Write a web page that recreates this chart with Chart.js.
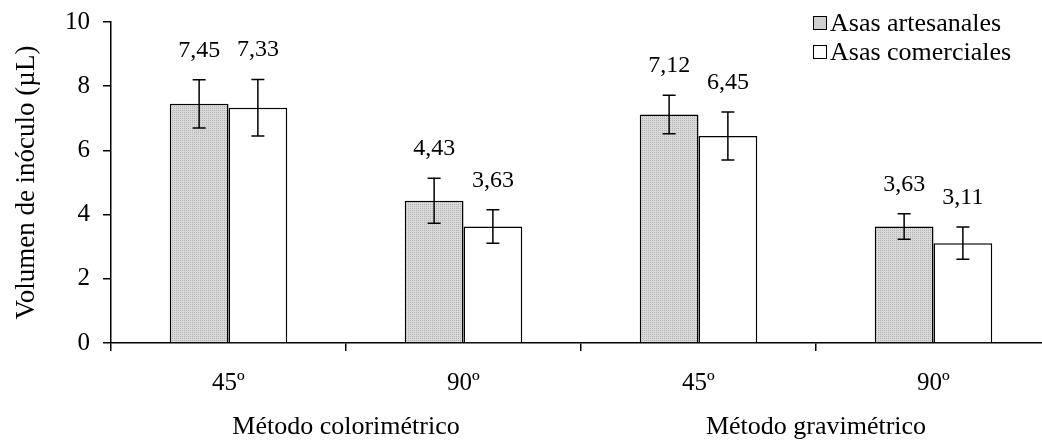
<!DOCTYPE html>
<html>
<head>
<meta charset="utf-8">
<script src="https://cdn.jsdelivr.net/npm/chart.js@4"></script>
<style>
  html, body { margin: 0; padding: 0; background: #fff; overflow: hidden; }
  #wrap { position: relative; width: 1053px; height: 443px; }
  #legend { position: absolute; left: 813px; top: 8px; font-family: 'Liberation Serif', serif; font-size: 26px; color: #000; }
  #legend .row { display: flex; align-items: center; height: 29px; }
  #legend .box { width: 12px; height: 12px; border: 1px solid #000; margin-right: 3px; }
</style>
</head>
<body>
<div id="wrap">
  <canvas id="c"></canvas>
  <div id="legend"></div>
</div>
<script>
const angleLabels = ['45º', '90º', '45º', '90º'];
const methodLabels = ['Método colorimétrico', 'Método gravimétrico'];
const seriesNames = ['Asas artesanales', 'Asas comerciales'];
const artesanales = [7.45, 4.43, 7.12, 3.63];
const comerciales = [7.33, 3.63, 6.45, 3.11];
const errArtesanales = [0.75, 0.70, 0.60, 0.40];
const errComerciales = [0.88, 0.52, 0.75, 0.50];
const yTicks = [0, 2, 4, 6, 8, 10];

// stippled grey fill
function makePattern() {
  const p = document.createElement('canvas');
  p.width = 2; p.height = 2;
  const g = p.getContext('2d');
  g.fillStyle = '#d9d9d9'; g.fillRect(0, 0, 2, 2);
  g.fillStyle = '#b2b2b2'; g.fillRect(0, 0, 1, 1);
  return g.createPattern(p, 'repeat');
}
const greyFill = makePattern();

const errors = [errArtesanales, errComerciales];
const serif = 'Liberation Serif';

const errorBarPlugin = {
  id: 'errorBars',
  afterDatasetsDraw(chart) {
    const ctx = chart.ctx;
    const y = chart.scales.y;
    ctx.save();
    ctx.strokeStyle = '#000';
    ctx.lineWidth = 1.5;
    ctx.fillStyle = '#000';
    ctx.font = '24px "' + serif + '"';
    ctx.textAlign = 'center';
    ctx.textBaseline = 'alphabetic';
    chart.data.datasets.forEach((ds, di) => {
      const meta = chart.getDatasetMeta(di);
      meta.data.forEach((bar, i) => {
        const v = ds.data[i];
        const e = errors[di][i];
        const yt = y.getPixelForValue(v + e);
        const yb = y.getPixelForValue(v - e);
        const x = bar.x;
        ctx.beginPath();
        ctx.moveTo(x, yt); ctx.lineTo(x, yb);
        ctx.moveTo(x - 6.5, yt); ctx.lineTo(x + 6.5, yt);
        ctx.moveTo(x - 6.5, yb); ctx.lineTo(x + 6.5, yb);
        ctx.stroke();
        ctx.fillText(v.toFixed(2).replace('.', ','), x, yt - 23);
      });
    });
    ctx.restore();
  }
};

new Chart(document.getElementById('c'), {
  type: 'bar',
  data: {
    labels: angleLabels,
    datasets: [
      { label: seriesNames[0], data: artesanales, backgroundColor: greyFill, borderColor: '#000', borderWidth: 1.5, categoryPercentage: 0.5, barPercentage: 1.0 },
      { label: seriesNames[1], data: comerciales, backgroundColor: '#ffffff', borderColor: '#000', borderWidth: 1.5, categoryPercentage: 0.5, barPercentage: 1.0 }
    ]
  },
  options: {
    responsive: true,
    maintainAspectRatio: false,
    animation: false,
    layout: { padding: { top: 22, right: 2, left: 0, bottom: 0 } },
    plugins: { legend: { display: false }, tooltip: { enabled: false } },
    scales: {
      y: {
        min: 0, max: 10,
        afterBuildTicks(scale) { scale.ticks = yTicks.map(v => ({ value: v })); },
        afterFit(scale) { scale.width = 111; scale.paddingTop = 0; scale.paddingBottom = 0; },
        ticks: { color: '#000', font: { family: serif, size: 25, lineHeight: 0.6 }, padding: 13 },
        grid: { drawOnChartArea: false, drawTicks: true, tickLength: 8, color: '#000', lineWidth: 1.5 },
        border: { display: true, color: '#000', width: 1.5 },
        title: { display: true, text: 'Volumen de inóculo (µL)', color: '#000', font: { family: serif, size: 27 }, padding: { top: 11, bottom: 0 } }
      },
      x: {
        weight: 0,
        afterFit(scale) { scale.height = 62; },
        ticks: { color: '#000', font: { family: serif, size: 25 }, padding: 17, maxRotation: 0 },
        grid: { offset: true, drawOnChartArea: false, drawTicks: true, tickLength: 8, color: '#000', lineWidth: 1.5 },
        border: { display: true, color: '#000', width: 1.5 }
      },
      x2: {
        type: 'category',
        labels: methodLabels,
        position: 'bottom',
        weight: 1,
        offset: true,
        afterFit(scale) { scale.height = 38; },
        ticks: { color: '#000', font: { family: serif, size: 26 }, padding: 7, maxRotation: 0 },
        grid: { display: false, drawTicks: false },
        border: { display: false }
      }
    }
  },
  plugins: [errorBarPlugin]
});

// HTML legend built from the series names
const legend = document.getElementById('legend');
seriesNames.forEach((name, i) => {
  const row = document.createElement('div');
  row.className = 'row';
  const box = document.createElement('div');
  box.className = 'box';
  if (i === 0) box.style.background = '#cfcfcf';
  else box.style.background = '#fff';
  const t = document.createElement('span');
  t.textContent = name;
  row.appendChild(box); row.appendChild(t);
  legend.appendChild(row);
});
</script>
</body>
</html>
